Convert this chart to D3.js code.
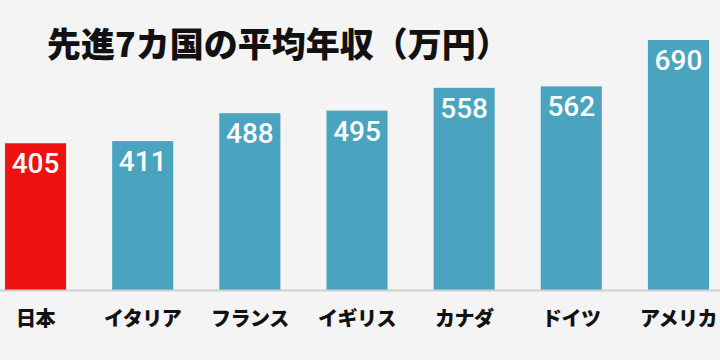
<!DOCTYPE html>
<html>
<head>
<meta charset="utf-8">
<script src="https://cdn.jsdelivr.net/npm/d3@7"></script>
<style>
  body { margin: 0; background: #f4f4f4; }
  svg { display: block; }
</style>
</head>
<body>
<svg id="chart" viewBox="0 0 720 360" width="720" height="360"></svg>
<script>
const countries = ["日本", "イタリア", "フランス", "イギリス", "カナダ", "ドイツ", "アメリカ"];
const incomes = [405, 411, 488, 495, 558, 562, 690];
const title = "先進7カ国の平均年収（万円）";

const svg = d3.select("#chart");
const width = 720, height = 360;
const baseY = 290;

svg.append("rect").attr("width", width).attr("height", height).attr("fill", "#f4f4f4");

// x scale for bars
const x = d3.scaleBand()
    .domain(countries)
    .range([5, 709])
    .paddingInner(0.43)
    .paddingOuter(0);

const y = d3.scaleLinear()
    .domain([0, 690])
    .range([baseY, 40]);

const data = countries.map((c, i) => ({ name: c, value: incomes[i] }));

// bars
svg.append("g").selectAll("rect")
    .data(data)
    .enter()
    .append("rect")
    .attr("x", d => x(d.name))
    .attr("y", d => y(d.value))
    .attr("width", x.bandwidth())
    .attr("height", d => baseY - y(d.value))
    .attr("fill", (d, i) => i === 0 ? "#ee1111" : "#4aa3bf");

// value labels
svg.append("g").selectAll("text")
    .data(data)
    .enter()
    .append("text")
    .attr("x", d => x(d.name) + x.bandwidth() / 2)
    .attr("y", d => y(d.value) + 30)
    .attr("text-anchor", "middle")
    .attr("fill", "#fff")
    .style("font-family", "Roboto, 'Noto Sans', sans-serif")
    .style("font-size", "28px")
    .style("font-weight", 500)
    .text(d => d.value);

// baseline
svg.append("line")
    .attr("x1", 0).attr("x2", width)
    .attr("y1", baseY + 0.5).attr("y2", baseY + 0.5)
    .attr("stroke", "#cfcfcf")
    .attr("stroke-width", 2);

// category labels
svg.append("g").selectAll("text")
    .data(data)
    .enter()
    .append("text")
    .attr("x", d => x(d.name) + x.bandwidth() / 2)
    .attr("y", 326)
    .attr("text-anchor", "middle")
    .attr("fill", "#111")
    .style("font-family", "'Noto Sans CJK JP', sans-serif")
    .style("font-size", "20px")
    .style("font-weight", 900)
    .style("letter-spacing", "-0.5px")
    .text(d => d.name);

// title
svg.append("text")
    .attr("x", 47)
    .attr("y", 57)
    .attr("fill", "#111")
    .style("font-family", "'Noto Sans CJK JP', sans-serif")
    .style("font-size", "34px")
    .style("font-weight", 900)
    .text(title);
</script>
</body>
</html>
